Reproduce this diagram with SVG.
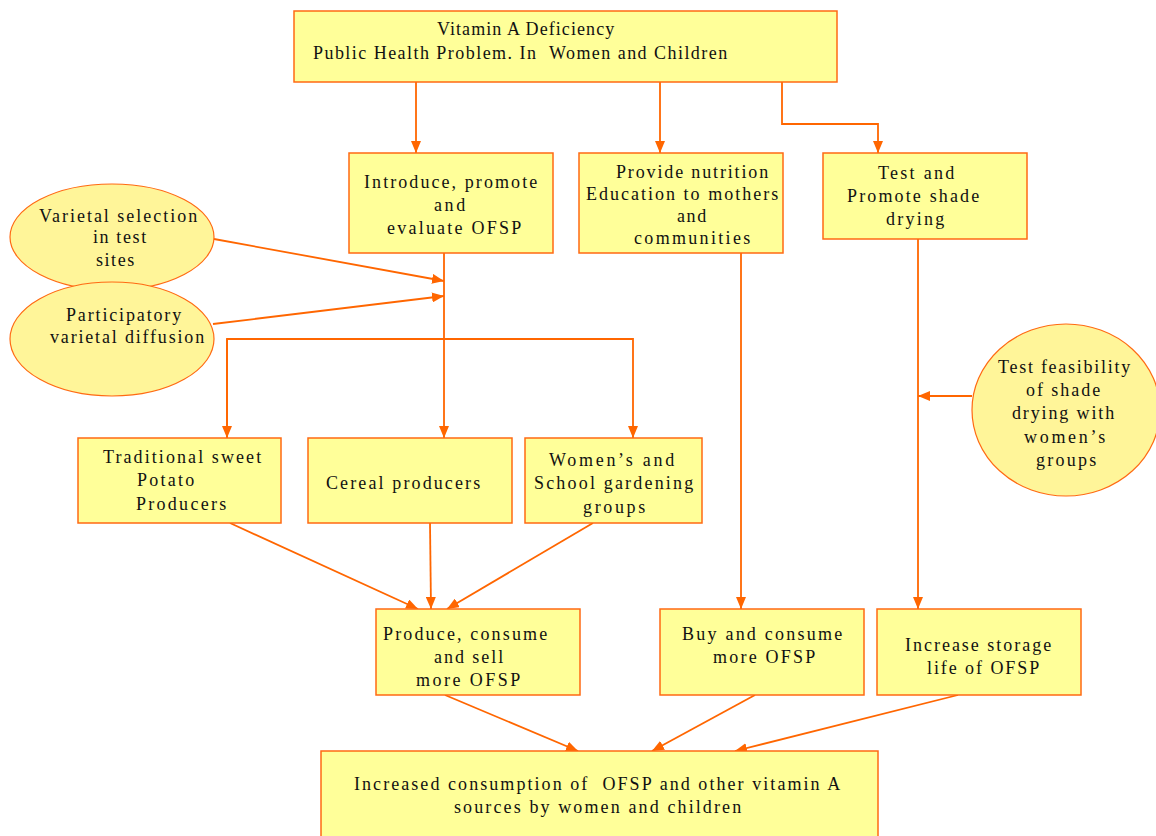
<svg xmlns="http://www.w3.org/2000/svg" width="1156" height="836" viewBox="0 0 1156 836">
<style>
.box{fill:#FFFF99;stroke:#FF6A13;stroke-width:1.5}
.ell{fill:#FFF599;stroke:#FF6A13;stroke-width:1.2}
.c{fill:none;stroke:#FF6600;stroke-width:1.8}
text{font-family:"Liberation Serif","Times New Roman","DejaVu Serif",serif;font-size:18px;fill:#111;letter-spacing:0.8px;white-space:pre}
</style>
<defs>
<marker id="ah" viewBox="0 0 12 10" refX="12" refY="5" markerWidth="12" markerHeight="10" markerUnits="userSpaceOnUse" orient="auto">
<path d="M0,0 L12,5 L0,10 Z" fill="#FF6600"/>
</marker>
</defs>
<rect width="1156" height="836" fill="#fff"/>
<g id="connectors">
<path class="c" d="M416,82 V153" marker-end="url(#ah)"/>
<path class="c" d="M660,82 V153" marker-end="url(#ah)"/>
<path class="c" d="M782,82 V124 H878 V153" marker-end="url(#ah)"/>
<path class="c" d="M214,239 L444,281" marker-end="url(#ah)"/>
<path class="c" d="M213,324 L444,296" marker-end="url(#ah)"/>
<path class="c" d="M444,253 V438" marker-end="url(#ah)"/>
<path class="c" d="M227,438 V339 H633 V438" marker-end="url(#ah)"/>
<path class="c" d="M227,339 V438" marker-end="url(#ah)"/>
<path class="c" d="M230,523 L418,609" marker-end="url(#ah)"/>
<path class="c" d="M430,523 L431,609" marker-end="url(#ah)"/>
<path class="c" d="M593,523 L447,609" marker-end="url(#ah)"/>
<path class="c" d="M741,253 V609" marker-end="url(#ah)"/>
<path class="c" d="M918,239 V609" marker-end="url(#ah)"/>
<path class="c" d="M972,396 H918" marker-end="url(#ah)"/>
<path class="c" d="M445,695 L578,751" marker-end="url(#ah)"/>
<path class="c" d="M755,695 L652,751" marker-end="url(#ah)"/>
<path class="c" d="M958,695 L735,751" marker-end="url(#ah)"/>
</g>
<g id="vad">
<rect class="box" x="294" y="11" width="543" height="71"/>
<text x="437" y="35" textLength="178" lengthAdjust="spacing">Vitamin A Deficiency</text>
<text x="313" y="59" textLength="415" lengthAdjust="spacing">Public Health Problem. In  Women and Children</text>
</g>
<g id="introduce">
<rect class="box" x="349" y="153" width="204" height="100"/>
<text x="364" y="188" textLength="174" lengthAdjust="spacing">Introduce, promote</text>
<text x="434" y="211" textLength="32" lengthAdjust="spacing">and</text>
<text x="387" y="234" textLength="135" lengthAdjust="spacing">evaluate OFSP</text>
</g>
<g id="nutrition">
<rect class="box" x="579" y="153" width="204" height="100"/>
<text x="616" y="178" textLength="153" lengthAdjust="spacing">Provide nutrition</text>
<text x="586" y="200" textLength="193" lengthAdjust="spacing">Education to mothers</text>
<text x="677" y="222" textLength="30" lengthAdjust="spacing">and</text>
<text x="634" y="244" textLength="117" lengthAdjust="spacing">communities</text>
</g>
<g id="shade">
<rect class="box" x="823" y="153" width="204" height="86"/>
<text x="878" y="179" textLength="77" lengthAdjust="spacing">Test and</text>
<text x="847" y="202" textLength="133" lengthAdjust="spacing">Promote shade</text>
<text x="886" y="225" textLength="59" lengthAdjust="spacing">drying</text>
</g>
<g id="varietal-selection">
<ellipse class="ell" cx="112" cy="237" rx="102" ry="53"/>
<text x="39" y="222" textLength="159" lengthAdjust="spacing">Varietal selection</text>
<text x="93" y="243" textLength="54" lengthAdjust="spacing">in test</text>
<text x="96" y="266" textLength="39" lengthAdjust="spacing">sites</text>
</g>
<g id="participatory">
<ellipse class="ell" cx="112" cy="339" rx="102" ry="57"/>
<text x="66" y="321" textLength="116" lengthAdjust="spacing">Participatory</text>
<text x="50" y="343" textLength="155" lengthAdjust="spacing">varietal diffusion</text>
</g>
<g id="traditional">
<rect class="box" x="78" y="438" width="203" height="85"/>
<text x="103" y="463" textLength="159" lengthAdjust="spacing">Traditional sweet</text>
<text x="137" y="486" textLength="58" lengthAdjust="spacing">Potato</text>
<text x="136" y="510" textLength="91" lengthAdjust="spacing">Producers</text>
</g>
<g id="cereal">
<rect class="box" x="308" y="438" width="204" height="85"/>
<text x="326" y="489" textLength="155" lengthAdjust="spacing">Cereal producers</text>
</g>
<g id="womens">
<rect class="box" x="525" y="438" width="177" height="85"/>
<text x="549" y="466" textLength="126" lengthAdjust="spacing">Women’s and</text>
<text x="534" y="489" textLength="160" lengthAdjust="spacing">School gardening</text>
<text x="583" y="513" textLength="63" lengthAdjust="spacing">groups</text>
</g>
<g id="feasibility">
<ellipse class="ell" cx="1066" cy="410" rx="94" ry="86"/>
<text x="998" y="373" textLength="133" lengthAdjust="spacing">Test feasibility</text>
<text x="1026" y="396" textLength="75" lengthAdjust="spacing">of shade</text>
<text x="1012" y="419" textLength="103" lengthAdjust="spacing">drying with</text>
<text x="1024" y="443" textLength="82" lengthAdjust="spacing">women’s</text>
<text x="1036" y="466" textLength="61" lengthAdjust="spacing">groups</text>
</g>
<g id="produce">
<rect class="box" x="376" y="609" width="204" height="86"/>
<text x="383" y="640" textLength="165" lengthAdjust="spacing">Produce, consume</text>
<text x="434" y="663" textLength="70" lengthAdjust="spacing">and sell</text>
<text x="416" y="686" textLength="105" lengthAdjust="spacing">more OFSP</text>
</g>
<g id="buy">
<rect class="box" x="660" y="609" width="204" height="86"/>
<text x="682" y="640" textLength="161" lengthAdjust="spacing">Buy and consume</text>
<text x="713" y="663" textLength="103" lengthAdjust="spacing">more OFSP</text>
</g>
<g id="storage">
<rect class="box" x="877" y="609" width="204" height="86"/>
<text x="905" y="651" textLength="147" lengthAdjust="spacing">Increase storage</text>
<text x="927" y="674" textLength="113" lengthAdjust="spacing">life of OFSP</text>
</g>
<g id="increased">
<rect class="box" x="321" y="751" width="557" height="90"/>
<text x="354" y="790" textLength="487" lengthAdjust="spacing">Increased consumption of  OFSP and other vitamin A</text>
<text x="454" y="813" textLength="288" lengthAdjust="spacing">sources by women and children</text>
</g>
</svg>
